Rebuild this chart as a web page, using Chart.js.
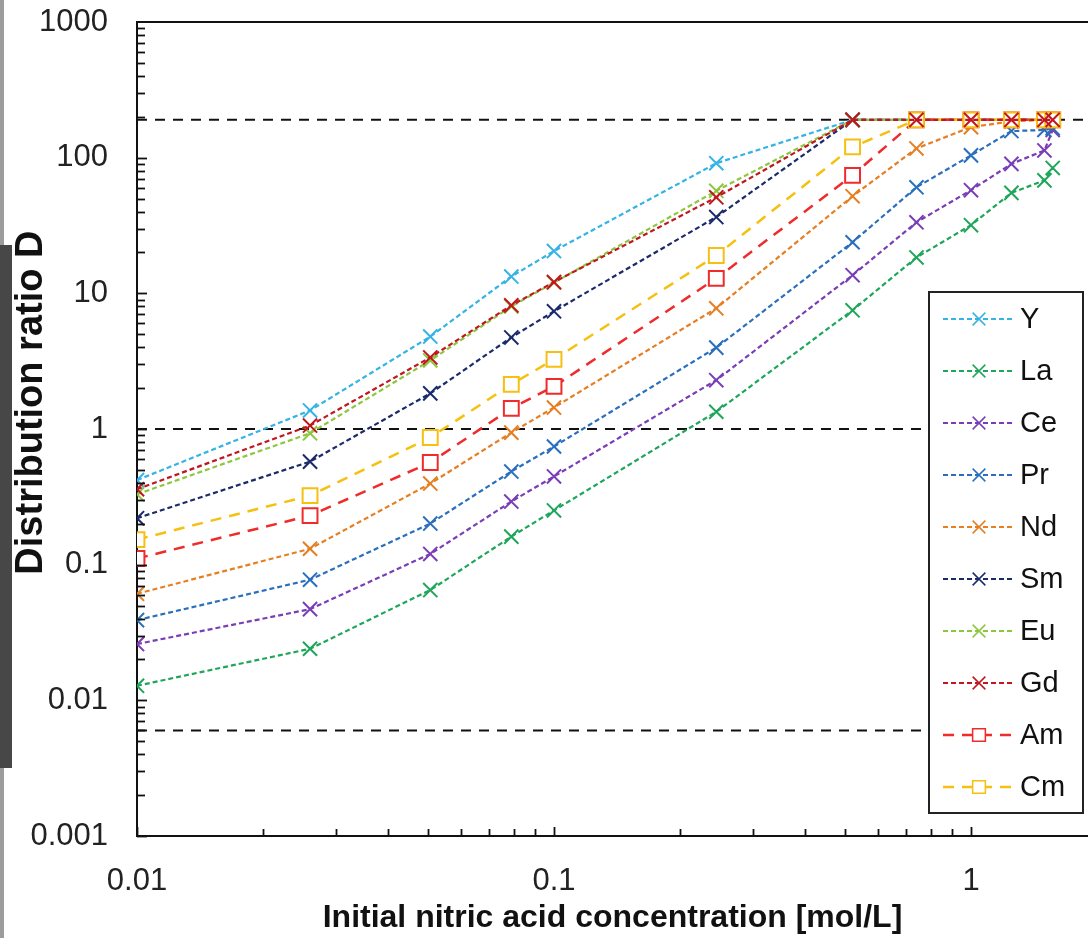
<!DOCTYPE html>
<html>
<head>
<meta charset="utf-8">
<script src="https://cdn.jsdelivr.net/npm/chart.js@4.4.1/dist/chart.umd.min.js"></script>
<style>
  html, body { margin: 0; padding: 0; background: #fff; }
  #wrap { position: relative; width: 1088px; height: 938px; overflow: hidden; }
  #chart { position: absolute; left: 0; top: 0; }
  .strip { position: absolute; left: 0; }
</style>
</head>
<body>
<div id="wrap">
  <canvas id="chart" width="1088" height="938"></canvas>
  <div class="strip" style="top:0;height:245px;width:4px;background:#9c9c9c"></div>
  <div class="strip" style="top:245px;height:523px;width:12px;background:#474747"></div>
  <div class="strip" style="top:768px;height:170px;width:4px;background:#9c9c9c"></div>
</div>
<script>
/// Distribution ratio vs. initial nitric acid concentration

// HNO3 concentrations [mol/L]
const acid = [0.01, 0.026, 0.0505, 0.079, 0.1, 0.245, 0.52, 0.74, 1.0, 1.25, 1.5, 1.57];

// distribution ratios D (190 = upper limit line)
const Y  = [0.42, 1.37, 4.8, 13.3, 20.5, 91, 190, 190, 190, 190, 190, 190];
const La = [0.0128, 0.024, 0.065, 0.161, 0.251, 1.34, 7.5, 18.4, 31.8, 55, 68, 84];
const Ce = [0.026, 0.047, 0.12, 0.292, 0.447, 2.29, 13.6, 33.4, 57.6, 90, 113, 160];
const Pr = [0.039, 0.0775, 0.201, 0.486, 0.743, 3.98, 23.8, 60.5, 104, 157, 160, 165];
const Nd = [0.061, 0.131, 0.396, 0.94, 1.44, 7.76, 52, 117, 168, 185, 190, 190];
const Sm = [0.22, 0.575, 1.83, 4.73, 7.37, 36.5, 190, 190, 190, 190, 190, 190];
const Eu = [0.33, 0.93, 3.2, 8.0, 12.0, 57, 190, 190, 190, 190, 190, 190];
const Gd = [0.36, 1.06, 3.37, 8.15, 12.1, 51, 190, 190, 190, 190, 190, 190];
const Am = [0.111, 0.23, 0.566, 1.42, 2.06, 12.9, 74, 190, 190, 190, 190, 190];
const Cm = [0.153, 0.323, 0.865, 2.13, 3.26, 19, 120, 190, 190, 190, 190, 190];

const seriesNames = ["Y", "La", "Ce", "Pr", "Nd", "Sm", "Eu", "Gd", "Am", "Cm"];
const seriesValues = [Y, La, Ce, Pr, Nd, Sm, Eu, Gd, Am, Cm];
const seriesColors = ["#35b3e4", "#1fa65a", "#7a3db8", "#2a6fbd", "#e67e22",
                      "#1b2a6b", "#8dc63f", "#c0171f", "#ef2b2b", "#f5c010"];

// horizontal reference levels (dashed black)
const refLevels = [190, 1, 0.006];

const xTicks = [0.01, 0.1, 1];
const yTicks = [0.001, 0.01, 0.1, 1, 10, 100, 1000];
const xMin = 0.01, xMax = 1.908;

const tickFont = { family: "'Liberation Sans', Arial, sans-serif", size: 31 };
const titleFamily = "'Liberation Sans Narrow', 'Arial Narrow', 'Liberation Sans', sans-serif";

const isSquare = (name) => name === "Am" || name === "Cm";
const styleFor = (name) => isSquare(name)
  ? { pointStyle: "rect", radius: 10.5, dash: [11, 8], width: 2.5 }
  : { pointStyle: "crossRot", radius: 10, dash: [5, 3], width: 2.2 };

const datasets = seriesNames.map((name, i) => {
  const st = styleFor(name);
  return {
    label: name,
    data: acid.map((a, j) => ({ x: a, y: seriesValues[i][j] })),
    borderColor: seriesColors[i],
    backgroundColor: "#ffffff",
    pointBorderColor: seriesColors[i],
    pointBackgroundColor: "#ffffff",
    borderWidth: st.width,
    borderDash: st.dash,
    pointStyle: st.pointStyle,
    pointRadius: st.radius,
    pointBorderWidth: 2,
    tension: 0,
    order: name === "Gd" ? 0 : 11 - i,
  };
});

refLevels.forEach((lv) => {
  datasets.push({
    label: "ref",
    data: [{ x: xMin, y: lv }, { x: xMax, y: lv }],
    borderColor: "#111",
    borderWidth: 2,
    borderDash: [10, 8],
    pointRadius: 0,
    order: 20,
  });
});

// inward major/minor ticks + top frame line
const frameTicks = {
  id: "frameTicks",
  afterDraw(chart) {
    const { ctx, chartArea: a, scales: { x, y } } = chart;
    ctx.save();
    ctx.strokeStyle = "#111";
    ctx.lineWidth = 2;
    ctx.beginPath();
    ctx.moveTo(a.left - 1, a.top);
    ctx.lineTo(a.right, a.top);
    ctx.stroke();
    ctx.lineWidth = 1.8;
    for (let e = -3; e <= 2; e++) {
      for (let k = 1; k <= 9; k++) {
        const py = Math.round(y.getPixelForValue(k * Math.pow(10, e))) + 0.5;
        const len = k === 1 ? 10 : 8;
        ctx.beginPath();
        ctx.moveTo(a.left, py);
        ctx.lineTo(a.left + len, py);
        ctx.stroke();
      }
    }
    for (let e = -2; e <= 0; e++) {
      for (let k = 1; k <= 9; k++) {
        const v = k * Math.pow(10, e);
        if (v > xMax) continue;
        const px = Math.round(x.getPixelForValue(v)) + 0.5;
        const len = k === 1 ? 9 : 7;
        ctx.beginPath();
        ctx.moveTo(px, a.bottom);
        ctx.lineTo(px, a.bottom - len);
        ctx.stroke();
      }
    }
    ctx.restore();
  },
};

// boxed legend inside the plot, lower right
const boxLegend = {
  id: "boxLegend",
  afterDraw(chart) {
    const { ctx, chartArea: a } = chart;
    const left = a.right - 159, top = a.top + 270, w = 154, h = 521;
    ctx.save();
    ctx.fillStyle = "#fff";
    ctx.fillRect(left, top, w, h);
    ctx.strokeStyle = "#222";
    ctx.lineWidth = 2;
    ctx.strokeRect(left, top, w, h);
    seriesNames.forEach((name, i) => {
      const st = styleFor(name);
      const yy = top + 27 + i * 52;
      ctx.strokeStyle = seriesColors[i];
      ctx.lineWidth = st.width;
      ctx.setLineDash(st.dash);
      ctx.beginPath();
      ctx.moveTo(left + 14, yy);
      ctx.lineTo(left + 85, yy);
      ctx.stroke();
      ctx.setLineDash([]);
      ctx.fillStyle = "#fff";
      ctx.lineWidth = 1.5;
      Chart.helpers.drawPoint(ctx, { pointStyle: st.pointStyle, radius: 9, borderWidth: 1.5, rotation: 0 }, left + 50, yy);
      ctx.fillStyle = "#111";
      ctx.font = "29px 'Liberation Sans', Arial, sans-serif";
      ctx.textBaseline = "middle";
      ctx.textAlign = "left";
      ctx.fillText(name, left + 91, yy + 1);
    });
    ctx.restore();
  },
};

new Chart(document.getElementById("chart"), {
  type: "line",
  data: { datasets },
  plugins: [frameTicks, boxLegend],
  options: {
    responsive: false,
    animation: false,
    devicePixelRatio: 1,
    layout: { autoPadding: false, padding: { top: 22, right: 0, left: 0, bottom: 0 } },
    plugins: { legend: { display: false }, tooltip: { enabled: false } },
    scales: {
      x: {
        type: "logarithmic",
        min: xMin,
        max: xMax,
        afterBuildTicks: (s) => { s.ticks = xTicks.map((v) => ({ value: v })); },
        afterFit: (s) => { s.height = 102; s.paddingLeft = 0; s.paddingRight = 0; },
        grid: { drawOnChartArea: false, drawTicks: false },
        border: { display: true, color: "#111", width: 2 },
        ticks: { autoSkip: false, maxRotation: 0, padding: 27, color: "#222", font: tickFont,
                 callback: (v) => String(v) },
        title: { display: true, text: "Initial nitric acid concentration [mol/L]", color: "#111",
                 font: { family: titleFamily, size: 32, weight: "bold" }, padding: { top: 0, bottom: 1 } },
      },
      y: {
        type: "logarithmic",
        min: 0.001,
        max: 1000,
        afterBuildTicks: (s) => { s.ticks = yTicks.map((v) => ({ value: v })); },
        afterFit: (s) => { s.width = 137; s.paddingTop = 0; s.paddingBottom = 0; },
        grid: { drawOnChartArea: false, drawTicks: false },
        border: { display: true, color: "#111", width: 2 },
        ticks: { autoSkip: false, padding: 29, color: "#222", font: tickFont,
                 callback: (v) => String(v) },
        title: { display: true, text: "     Distribution ratio D", color: "#111",
                 font: { family: titleFamily, size: 38, weight: "bold" }, padding: { top: 9, bottom: 0 } },
      },
    },
  },
});
</script>
</body>
</html>
